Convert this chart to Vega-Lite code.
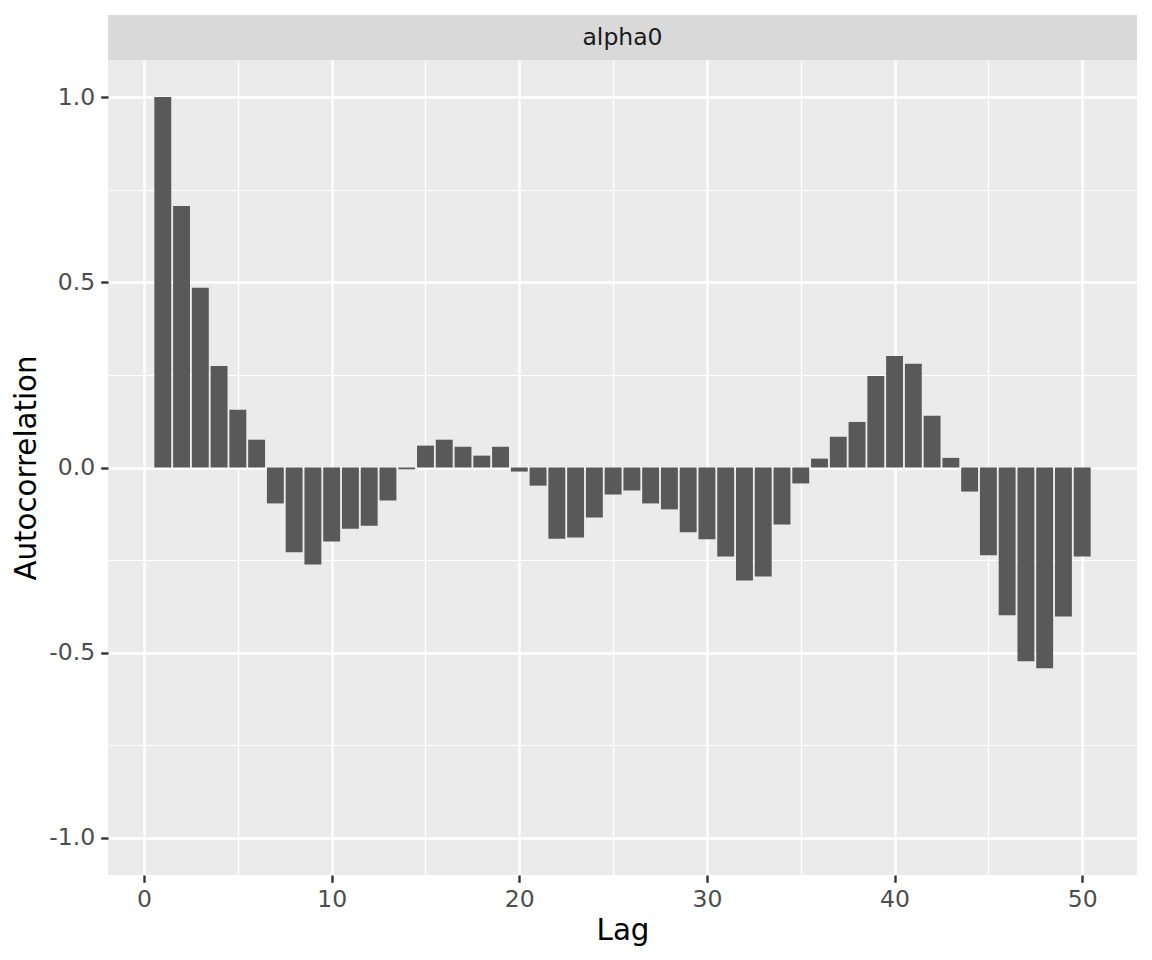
{
  "$schema": "https://vega.github.io/schema/vega-lite/v6.json",
  "background": "white",
  "padding": {"left": 12, "top": 15, "right": 15, "bottom": 15},
  "spacing": 0,
  "config": {
    "font": "DejaVu Sans",
    "concat": {"spacing": 0}
  },
  "data": {
    "values": [
      {"lag": 1, "acf": 1.0}, {"lag": 2, "acf": 0.706}, {"lag": 3, "acf": 0.485},
      {"lag": 4, "acf": 0.274}, {"lag": 5, "acf": 0.156}, {"lag": 6, "acf": 0.075},
      {"lag": 7, "acf": -0.097}, {"lag": 8, "acf": -0.229}, {"lag": 9, "acf": -0.262},
      {"lag": 10, "acf": -0.2}, {"lag": 11, "acf": -0.165}, {"lag": 12, "acf": -0.157},
      {"lag": 13, "acf": -0.089}, {"lag": 14, "acf": -0.005}, {"lag": 15, "acf": 0.059},
      {"lag": 16, "acf": 0.075}, {"lag": 17, "acf": 0.056}, {"lag": 18, "acf": 0.032},
      {"lag": 19, "acf": 0.056}, {"lag": 20, "acf": -0.011}, {"lag": 21, "acf": -0.049},
      {"lag": 22, "acf": -0.192}, {"lag": 23, "acf": -0.189}, {"lag": 24, "acf": -0.135},
      {"lag": 25, "acf": -0.073}, {"lag": 26, "acf": -0.062}, {"lag": 27, "acf": -0.097},
      {"lag": 28, "acf": -0.113}, {"lag": 29, "acf": -0.175}, {"lag": 30, "acf": -0.194},
      {"lag": 31, "acf": -0.24}, {"lag": 32, "acf": -0.305}, {"lag": 33, "acf": -0.294},
      {"lag": 34, "acf": -0.154}, {"lag": 35, "acf": -0.043}, {"lag": 36, "acf": 0.024},
      {"lag": 37, "acf": 0.083}, {"lag": 38, "acf": 0.123}, {"lag": 39, "acf": 0.247},
      {"lag": 40, "acf": 0.301}, {"lag": 41, "acf": 0.28}, {"lag": 42, "acf": 0.14},
      {"lag": 43, "acf": 0.026}, {"lag": 44, "acf": -0.065}, {"lag": 45, "acf": -0.237},
      {"lag": 46, "acf": -0.399}, {"lag": 47, "acf": -0.523}, {"lag": 48, "acf": -0.542},
      {"lag": 49, "acf": -0.402}, {"lag": 50, "acf": -0.24}
    ]
  },
  "vconcat": [
    {
      "width": 1029,
      "height": 45,
      "view": {"fill": "#d9d9d9", "stroke": null},
      "data": {"values": [{"panel": "alpha0"}]},
      "mark": {"type": "text", "fontSize": 23.5, "color": "#1a1a1a", "baseline": "middle", "align": "center"},
      "encoding": {
        "text": {"field": "panel", "type": "nominal"}
      }
    },
    {
      "width": 1029,
      "height": 815,
      "view": {"fill": "#ebebeb", "stroke": null},
      "encoding": {
        "x": {
          "field": "lag",
          "type": "quantitative",
          "scale": {"domain": [-1.92, 52.92], "nice": false, "zero": false, "padding": 0}
        },
        "y": {
          "field": "acf",
          "type": "quantitative",
          "scale": {"domain": [-1.1, 1.1], "nice": false, "padding": 0}
        }
      },
      "layer": [
        {
          "mark": {"type": "bar", "orient": "vertical", "width": 16.9, "opacity": 0},
          "encoding": {
            "x": {
              "field": "lag",
              "type": "quantitative",
              "axis": {
                "orient": "top",
                "values": [5, 15, 25, 35, 45],
                "grid": true, "gridColor": "white", "gridWidth": 1.2,
                "labels": false, "ticks": false, "domain": false, "title": null
              }
            },
            "y": {
              "field": "acf",
              "type": "quantitative",
              "axis": {
                "orient": "right",
                "values": [-0.75, -0.25, 0.25, 0.75],
                "grid": true, "gridColor": "white", "gridWidth": 1.2,
                "labels": false, "ticks": false, "domain": false, "title": null
              }
            }
          }
        },
        {
          "mark": {"type": "bar", "orient": "vertical", "width": 16.9, "color": "#595959"},
          "encoding": {
            "x": {
              "field": "lag",
              "type": "quantitative",
              "title": "Lag",
              "axis": {
                "orient": "bottom",
                "values": [0, 10, 20, 30, 40, 50],
                "grid": true, "gridColor": "white", "gridWidth": 2.4,
                "domain": false,
                "ticks": true, "tickColor": "#333333", "tickWidth": 2.4, "tickSize": 7.3,
                "labelFontSize": 23.5, "labelColor": "#4d4d4d", "labelPadding": 5,
                "titleFontSize": 29.3, "titleColor": "black", "titleFontWeight": "normal", "titlePadding": 6
              }
            },
            "y": {
              "field": "acf",
              "type": "quantitative",
              "title": "Autocorrelation",
              "axis": {
                "orient": "left",
                "values": [-1, -0.5, 0, 0.5, 1],
                "labelExpr": "replace(format(datum.value, '.1f'), '\u2212', '-')",
                "grid": true, "gridColor": "white", "gridWidth": 2.4,
                "domain": false,
                "ticks": true, "tickColor": "#333333", "tickWidth": 2.4, "tickSize": 7.3,
                "labelFontSize": 23.5, "labelColor": "#4d4d4d", "labelPadding": 6,
                "titleFontSize": 29.3, "titleColor": "black", "titleFontWeight": "normal", "titlePadding": 7
              }
            }
          }
        }
      ],
      "resolve": {"axis": {"x": "independent", "y": "independent"}}
    }
  ]
}
